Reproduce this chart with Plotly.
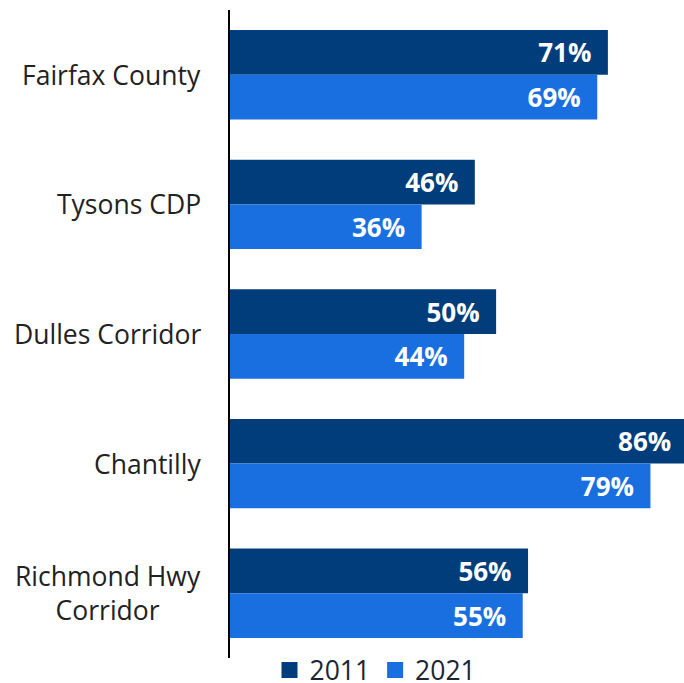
import plotly.graph_objects as go

areas = ["Fairfax County", "Tysons CDP", "Dulles Corridor", "Chantilly", "Richmond Hwy<br>Corridor"]
share_2011 = [71, 46, 50, 86, 56]
share_2021 = [69, 36, 44, 79, 55]

NAVY = "#023D7B"
BLUE = "#1A6FE0"
FONT = "Open Sans, Noto Sans, sans-serif"

fig = go.Figure()
for name, vals, color in [("2011", share_2011, NAVY), ("2021", share_2021, BLUE)]:
    fig.add_trace(
        go.Bar(
            y=areas,
            x=vals,
            orientation="h",
            name=name,
            showlegend=False,
            marker={"color": color, "line": {"width": 0}},
            texttemplate="%{x}%\u00a0\u00a0",
            textposition="inside",
            insidetextanchor="end",
            constraintext="none",
            textfont={"family": FONT, "size": 26, "color": "white", "weight": "bold"},
        )
    )
    # bigger square swatches for the legend
    fig.add_trace(
        go.Scatter(
            x=[None], y=[None], mode="markers", name=name,
            marker={"symbol": "square", "size": 17, "color": color},
        )
    )

# category labels, centred on each group
for a in areas:
    fig.add_annotation(
        x=0, xref="paper", y=a, yref="y",
        text=a, showarrow=False,
        xanchor="right", align="center", xshift=-27,
        font={"family": FONT, "size": 26.5, "color": "#222222"},
    )

fig.update_layout(
    width=684,
    height=683,
    margin={"l": 230, "r": 0, "t": 10, "b": 25, "autoexpand": False},
    barmode="group",
    bargap=0.31,
    bargroupgap=0,
    plot_bgcolor="white",
    paper_bgcolor="white",
    font={"family": FONT, "size": 26, "color": "#222222"},
    showlegend=True,
    legend={
        "orientation": "h",
        "x": 0.087,
        "xanchor": "left",
        "y": -0.019,
        "yanchor": "middle",
        "font": {"size": 26.5, "color": "#1b2633"},
        "itemwidth": 30,
    },
    xaxis={"range": [0, 85.3], "visible": False, "fixedrange": True},
    yaxis={
        "autorange": "reversed",
        "showticklabels": False,
        "showline": True,
        "linecolor": "black",
        "linewidth": 2,
        "ticks": "",
        "showgrid": False,
        "fixedrange": True,
    },
)

# drop the default page margin so the figure sits at the window's corner
fig.write_html(
    "out.html",
    config={"displayModeBar": False},
    post_script="document.body.style.margin='0';document.body.style.overflow='hidden';",
)
